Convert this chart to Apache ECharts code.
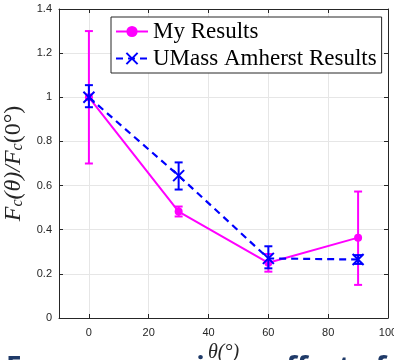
<!DOCTYPE html>
<html>
<head>
<meta charset="utf-8">
<script src="https://cdn.jsdelivr.net/npm/echarts@6/dist/echarts.min.js"></script>
<style>
  html, body { margin: 0; padding: 0; background: #fff; }
  #chart { width: 394px; height: 360px; }
</style>
</head>
<body>
<div id="chart"></div>
<script>
// angles in degrees
const angles = [0, 30, 60, 90];

const myResults = [1.0, 0.482, 0.25, 0.364];
const myLow = [0.7, 0.46, 0.21, 0.15];
const myHigh = [1.3, 0.505, 0.29, 0.573];

const umass = [1.0, 0.645, 0.27, 0.265];
const umassLow = [0.955, 0.582, 0.225, 0.245];
const umassHigh = [1.055, 0.705, 0.325, 0.285];

const yTicks = [0, 0.2, 0.4, 0.6, 0.8, 1, 1.2, 1.4];

const MAGENTA = "#ff00ff";
const BLUE = "#0000ff";
const AXIS = "#262626";
const SERIF = "'Liberation Serif', 'DejaVu Serif', serif";
const SANS = "'Liberation Sans', Arial, sans-serif";

const chart = echarts.init(document.getElementById("chart"));

function errorBars(lo, hi) {
  return angles.map((a, i) => [a, lo[i], hi[i]]);
}

function renderErr(color) {
  return function (params, api) {
    const x = api.value(0);
    const top = api.coord([x, api.value(2)]);
    const bot = api.coord([x, api.value(1)]);
    const cap = 4;
    const style = { stroke: color, lineWidth: 2 };
    return {
      type: "group",
      children: [
        { type: "line", shape: { x1: top[0], y1: top[1], x2: bot[0], y2: bot[1] }, style },
        { type: "line", shape: { x1: top[0] - cap, y1: top[1], x2: top[0] + cap, y2: top[1] }, style },
        { type: "line", shape: { x1: bot[0] - cap, y1: bot[1], x2: bot[0] + cap, y2: bot[1] }, style },
      ],
    };
  };
}

const xMarker = "path://M0,0L10,10M10,0L0,10";

chart.setOption({
  backgroundColor: "#fff",
  animation: false,
  grid: { left: 59, top: 9, right: 6, bottom: 42, outerBoundsMode: "none", containLabel: false },
  legend: {
    data: ["My Results", "UMass Amherst Results"],
    orient: "vertical",
    left: 111,
    top: 17,
    padding: [3, 5, 3, 4],
    itemGap: 4,
    itemWidth: 32,
    itemHeight: 14,
    backgroundColor: "#fff",
    borderColor: AXIS,
    borderWidth: 1,
    textStyle: { fontFamily: SERIF, fontSize: 23, color: "#000" },
  },
  xAxis: [
    {
      type: "value",
      min: -10,
      max: 100,
      splitNumber: 5,
      name: "θ(°)",
      nameLocation: "middle",
      nameGap: 16,
      nameTextStyle: { fontFamily: SERIF, fontSize: 20, fontStyle: "italic", color: AXIS },
      axisLine: { onZero: false, lineStyle: { color: AXIS, width: 1 } },
      axisTick: { inside: true, length: 4, lineStyle: { color: AXIS } },
      axisLabel: {
        showMinLabel: false,
        margin: 9,
        fontFamily: SANS,
        fontSize: 11,
        color: AXIS,
        formatter: (v) => (v < 0 ? "" : String(v)),
      },
      splitLine: { show: true, lineStyle: { color: "#e6e6e6" } },
    },
    {
      type: "value",
      position: "top",
      min: -10,
      max: 100,
      splitNumber: 5,
      axisLine: { onZero: false, lineStyle: { color: AXIS, width: 1 } },
      axisTick: { inside: true, length: 4, lineStyle: { color: AXIS } },
      axisLabel: { show: false },
      splitLine: { show: false },
    },
  ],
  yAxis: [
    {
      type: "value",
      min: yTicks[0],
      max: yTicks[yTicks.length - 1],
      interval: 0.2,
      name: "{f|F}{s|c}{f|(θ)/}{f|F}{s|c}{n|(0°)}",
      nameLocation: "middle",
      nameGap: 24,
      nameTextStyle: {
        rich: {
          f: { fontFamily: SERIF, fontSize: 24, fontStyle: "italic", color: AXIS },
          n: { fontFamily: SERIF, fontSize: 24, color: AXIS },
          s: { fontFamily: SERIF, fontSize: 16, fontStyle: "italic", color: AXIS, verticalAlign: "bottom", padding: [8, 0, 0, 0] },
        },
      },
      axisLine: { show: true, onZero: false, lineStyle: { color: AXIS, width: 1 } },
      axisTick: { show: true, inside: true, length: 4, lineStyle: { color: AXIS } },
      axisLabel: {
        margin: 7,
        fontFamily: SANS,
        fontSize: 11,
        color: AXIS,
        formatter: (v) => String(+v.toFixed(1)),
      },
      splitLine: { show: true, lineStyle: { color: "#e6e6e6" } },
    },
    {
      type: "value",
      position: "right",
      min: yTicks[0],
      max: yTicks[yTicks.length - 1],
      interval: 0.2,
      axisLine: { show: true, onZero: false, lineStyle: { color: AXIS, width: 1 } },
      axisTick: { show: true, inside: true, length: 4, lineStyle: { color: AXIS } },
      axisLabel: { show: false },
      splitLine: { show: false },
    },
  ],
  series: [
    {
      name: "My Results err",
      type: "custom",
      z: 2,
      data: errorBars(myLow, myHigh),
      encode: { x: 0, y: [1, 2] },
      renderItem: renderErr(MAGENTA),
    },
    {
      name: "My Results",
      type: "line",
      z: 3,
      data: angles.map((a, i) => [a, myResults[i]]),
      symbol: "circle",
      symbolSize: 8,
      lineStyle: { color: MAGENTA, width: 2 },
      itemStyle: { color: MAGENTA },
    },
    {
      name: "UMass err",
      type: "custom",
      z: 4,
      data: errorBars(umassLow, umassHigh),
      encode: { x: 0, y: [1, 2] },
      renderItem: renderErr(BLUE),
    },
    {
      name: "UMass Amherst Results",
      type: "line",
      z: 5,
      data: angles.map((a, i) => [a, umass[i]]),
      symbol: xMarker,
      symbolSize: 11,
      lineStyle: { color: BLUE, width: 2.2, type: [7, 5] },
      itemStyle: { color: BLUE, borderColor: BLUE, borderWidth: 2 },
    },
  ],
  graphic: [
    {
      type: "text",
      left: 6,
      top: 355,
      silent: true,
      style: {
        text: "Force comparison: effect of drag",
        fontFamily: "'Open Sans', 'DejaVu Sans', sans-serif",
        fontWeight: "bold",
        fontSize: 28,
        fill: "#1f3a68",
      },
    },
  ],
});
</script>
</body>
</html>
